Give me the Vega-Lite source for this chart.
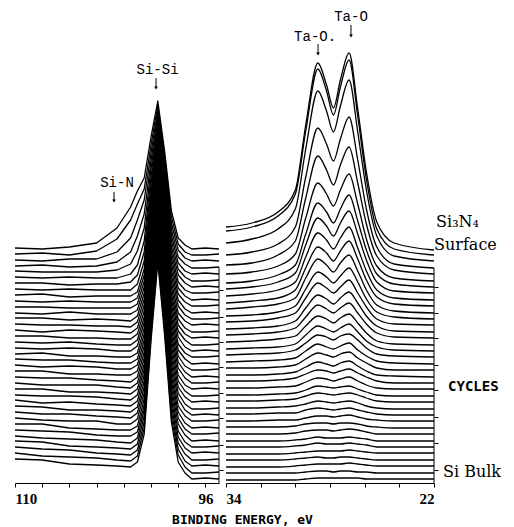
{
  "$schema": "https://vega.github.io/schema/vega-lite/v6.json",
  "background": "white",
  "padding": {"left": 14, "top": 0, "right": 0, "bottom": 0},
  "bounds": "flush",
  "spacing": 7,
  "config": {
    "view": {"stroke": null},
    "axis": {"domainColor": "black", "tickColor": "black", "labelColor": "black", "titleColor": "black", "grid": false, "domainWidth": 1, "tickWidth": 1, "tickSize": 4, "labelOverlap": false}
  },
  "datasets": {
    "si2p": [
      {"c":0,"eV":110,"I":24},{"c":0,"eV":108,"I":23},{"c":0,"eV":106,"I":19},{"c":0,"eV":104,"I":18},{"c":0,"eV":102.5,"I":17},{"c":0,"eV":101.5,"I":16},{"c":0,"eV":101,"I":21},{"c":0,"eV":100.5,"I":49},{"c":0,"eV":100,"I":142},{"c":0,"eV":99.5,"I":221},{"c":0,"eV":99,"I":148},{"c":0,"eV":98.5,"I":61},{"c":0,"eV":98,"I":21},{"c":0,"eV":97.5,"I":10},{"c":0,"eV":97,"I":4},{"c":0,"eV":96,"I":5},{"c":0,"eV":95,"I":4},
      {"c":1,"eV":110,"I":30},{"c":1,"eV":108,"I":27},{"c":1,"eV":106,"I":26},{"c":1,"eV":104,"I":25},{"c":1,"eV":102.5,"I":23},{"c":1,"eV":101.5,"I":22},{"c":1,"eV":101,"I":27},{"c":1,"eV":100.5,"I":55},{"c":1,"eV":100,"I":147},{"c":1,"eV":99.5,"I":225},{"c":1,"eV":99,"I":153},{"c":1,"eV":98.5,"I":66},{"c":1,"eV":98,"I":28},{"c":1,"eV":97.5,"I":16},{"c":1,"eV":97,"I":10},{"c":1,"eV":96,"I":10},{"c":1,"eV":95,"I":11},
      {"c":2,"eV":110,"I":36},{"c":2,"eV":108,"I":34},{"c":2,"eV":106,"I":33},{"c":2,"eV":104,"I":30},{"c":2,"eV":102.5,"I":29},{"c":2,"eV":101.5,"I":28},{"c":2,"eV":101,"I":33},{"c":2,"eV":100.5,"I":61},{"c":2,"eV":100,"I":152},{"c":2,"eV":99.5,"I":230},{"c":2,"eV":99,"I":158},{"c":2,"eV":98.5,"I":72},{"c":2,"eV":98,"I":34},{"c":2,"eV":97.5,"I":22},{"c":2,"eV":97,"I":17},{"c":2,"eV":96,"I":18},{"c":2,"eV":95,"I":17},
      {"c":3,"eV":110,"I":42},{"c":3,"eV":108,"I":41},{"c":3,"eV":106,"I":37},{"c":3,"eV":104,"I":36},{"c":3,"eV":102.5,"I":35},{"c":3,"eV":101.5,"I":34},{"c":3,"eV":101,"I":39},{"c":3,"eV":100.5,"I":67},{"c":3,"eV":100,"I":158},{"c":3,"eV":99.5,"I":234},{"c":3,"eV":99,"I":163},{"c":3,"eV":98.5,"I":78},{"c":3,"eV":98,"I":40},{"c":3,"eV":97.5,"I":29},{"c":3,"eV":97,"I":23},{"c":3,"eV":96,"I":23},{"c":3,"eV":95,"I":24},
      {"c":4,"eV":110,"I":47},{"c":4,"eV":108,"I":45},{"c":4,"eV":106,"I":44},{"c":4,"eV":104,"I":43},{"c":4,"eV":102.5,"I":41},{"c":4,"eV":101.5,"I":40},{"c":4,"eV":101,"I":45},{"c":4,"eV":100.5,"I":73},{"c":4,"eV":100,"I":163},{"c":4,"eV":99.5,"I":239},{"c":4,"eV":99,"I":168},{"c":4,"eV":98.5,"I":84},{"c":4,"eV":98,"I":46},{"c":4,"eV":97.5,"I":35},{"c":4,"eV":97,"I":30},{"c":4,"eV":96,"I":31},{"c":4,"eV":95,"I":30},
      {"c":5,"eV":110,"I":53},{"c":5,"eV":108,"I":52},{"c":5,"eV":106,"I":51},{"c":5,"eV":104,"I":48},{"c":5,"eV":102.5,"I":47},{"c":5,"eV":101.5,"I":47},{"c":5,"eV":101,"I":51},{"c":5,"eV":100.5,"I":78},{"c":5,"eV":100,"I":168},{"c":5,"eV":99.5,"I":243},{"c":5,"eV":99,"I":174},{"c":5,"eV":98.5,"I":90},{"c":5,"eV":98,"I":52},{"c":5,"eV":97.5,"I":41},{"c":5,"eV":97,"I":36},{"c":5,"eV":96,"I":36},{"c":5,"eV":95,"I":37},
      {"c":6,"eV":110,"I":59},{"c":6,"eV":108,"I":59},{"c":6,"eV":106,"I":55},{"c":6,"eV":104,"I":54},{"c":6,"eV":102.5,"I":53},{"c":6,"eV":101.5,"I":53},{"c":6,"eV":101,"I":57},{"c":6,"eV":100.5,"I":84},{"c":6,"eV":100,"I":173},{"c":6,"eV":99.5,"I":248},{"c":6,"eV":99,"I":179},{"c":6,"eV":98.5,"I":96},{"c":6,"eV":98,"I":59},{"c":6,"eV":97.5,"I":48},{"c":6,"eV":97,"I":42},{"c":6,"eV":96,"I":43},{"c":6,"eV":95,"I":42},
      {"c":7,"eV":110,"I":65},{"c":7,"eV":108,"I":63},{"c":7,"eV":106,"I":62},{"c":7,"eV":104,"I":62},{"c":7,"eV":102.5,"I":59},{"c":7,"eV":101.5,"I":59},{"c":7,"eV":101,"I":64},{"c":7,"eV":100.5,"I":90},{"c":7,"eV":100,"I":178},{"c":7,"eV":99.5,"I":252},{"c":7,"eV":99,"I":184},{"c":7,"eV":98.5,"I":102},{"c":7,"eV":98,"I":65},{"c":7,"eV":97.5,"I":54},{"c":7,"eV":97,"I":49},{"c":7,"eV":96,"I":49},{"c":7,"eV":95,"I":50},
      {"c":8,"eV":110,"I":71},{"c":8,"eV":108,"I":69},{"c":8,"eV":106,"I":69},{"c":8,"eV":104,"I":67},{"c":8,"eV":102.5,"I":66},{"c":8,"eV":101.5,"I":65},{"c":8,"eV":101,"I":70},{"c":8,"eV":100.5,"I":96},{"c":8,"eV":100,"I":183},{"c":8,"eV":99.5,"I":257},{"c":8,"eV":99,"I":189},{"c":8,"eV":98.5,"I":107},{"c":8,"eV":98,"I":71},{"c":8,"eV":97.5,"I":60},{"c":8,"eV":97,"I":55},{"c":8,"eV":96,"I":56},{"c":8,"eV":95,"I":55},
      {"c":9,"eV":110,"I":77},{"c":9,"eV":108,"I":76},{"c":9,"eV":106,"I":73},{"c":9,"eV":104,"I":73},{"c":9,"eV":102.5,"I":72},{"c":9,"eV":101.5,"I":71},{"c":9,"eV":101,"I":76},{"c":9,"eV":100.5,"I":102},{"c":9,"eV":100,"I":188},{"c":9,"eV":99.5,"I":261},{"c":9,"eV":99,"I":194},{"c":9,"eV":98.5,"I":113},{"c":9,"eV":98,"I":77},{"c":9,"eV":97.5,"I":67},{"c":9,"eV":97,"I":62},{"c":9,"eV":96,"I":62},{"c":9,"eV":95,"I":63},
      {"c":10,"eV":110,"I":83},{"c":10,"eV":108,"I":80},{"c":10,"eV":106,"I":81},{"c":10,"eV":104,"I":79},{"c":10,"eV":102.5,"I":78},{"c":10,"eV":101.5,"I":77},{"c":10,"eV":101,"I":82},{"c":10,"eV":100.5,"I":108},{"c":10,"eV":100,"I":193},{"c":10,"eV":99.5,"I":266},{"c":10,"eV":99,"I":199},{"c":10,"eV":98.5,"I":119},{"c":10,"eV":98,"I":84},{"c":10,"eV":97.5,"I":73},{"c":10,"eV":97,"I":68},{"c":10,"eV":96,"I":69},{"c":10,"eV":95,"I":68},
      {"c":11,"eV":110,"I":88},{"c":11,"eV":108,"I":87},{"c":11,"eV":106,"I":87},{"c":11,"eV":104,"I":86},{"c":11,"eV":102.5,"I":84},{"c":11,"eV":101.5,"I":83},{"c":11,"eV":101,"I":88},{"c":11,"eV":100.5,"I":114},{"c":11,"eV":100,"I":198},{"c":11,"eV":99.5,"I":270},{"c":11,"eV":99,"I":204},{"c":11,"eV":98.5,"I":125},{"c":11,"eV":98,"I":90},{"c":11,"eV":97.5,"I":79},{"c":11,"eV":97,"I":74},{"c":11,"eV":96,"I":74},{"c":11,"eV":95,"I":75},
      {"c":12,"eV":110,"I":94},{"c":12,"eV":108,"I":94},{"c":12,"eV":106,"I":91},{"c":12,"eV":104,"I":91},{"c":12,"eV":102.5,"I":90},{"c":12,"eV":101.5,"I":89},{"c":12,"eV":101,"I":94},{"c":12,"eV":100.5,"I":119},{"c":12,"eV":100,"I":204},{"c":12,"eV":99.5,"I":275},{"c":12,"eV":99,"I":209},{"c":12,"eV":98.5,"I":131},{"c":12,"eV":98,"I":96},{"c":12,"eV":97.5,"I":86},{"c":12,"eV":97,"I":81},{"c":12,"eV":96,"I":82},{"c":12,"eV":95,"I":81},
      {"c":13,"eV":110,"I":100},{"c":13,"eV":108,"I":98},{"c":13,"eV":106,"I":98},{"c":13,"eV":104,"I":98},{"c":13,"eV":102.5,"I":96},{"c":13,"eV":101.5,"I":95},{"c":13,"eV":101,"I":100},{"c":13,"eV":100.5,"I":125},{"c":13,"eV":100,"I":209},{"c":13,"eV":99.5,"I":279},{"c":13,"eV":99,"I":214},{"c":13,"eV":98.5,"I":137},{"c":13,"eV":98,"I":102},{"c":13,"eV":97.5,"I":92},{"c":13,"eV":97,"I":87},{"c":13,"eV":96,"I":87},{"c":13,"eV":95,"I":88},
      {"c":14,"eV":110,"I":106},{"c":14,"eV":108,"I":105},{"c":14,"eV":106,"I":105},{"c":14,"eV":104,"I":103},{"c":14,"eV":102.5,"I":102},{"c":14,"eV":101.5,"I":101},{"c":14,"eV":101,"I":106},{"c":14,"eV":100.5,"I":131},{"c":14,"eV":100,"I":214},{"c":14,"eV":99.5,"I":283},{"c":14,"eV":99,"I":220},{"c":14,"eV":98.5,"I":143},{"c":14,"eV":98,"I":108},{"c":14,"eV":97.5,"I":98},{"c":14,"eV":97,"I":94},{"c":14,"eV":96,"I":95},{"c":14,"eV":95,"I":94},
      {"c":15,"eV":110,"I":112},{"c":15,"eV":108,"I":112},{"c":15,"eV":106,"I":109},{"c":15,"eV":104,"I":109},{"c":15,"eV":102.5,"I":108},{"c":15,"eV":101.5,"I":108},{"c":15,"eV":101,"I":112},{"c":15,"eV":100.5,"I":137},{"c":15,"eV":100,"I":219},{"c":15,"eV":99.5,"I":288},{"c":15,"eV":99,"I":225},{"c":15,"eV":98.5,"I":148},{"c":15,"eV":98,"I":115},{"c":15,"eV":97.5,"I":105},{"c":15,"eV":97,"I":100},{"c":15,"eV":96,"I":100},{"c":15,"eV":95,"I":101},
      {"c":16,"eV":110,"I":118},{"c":16,"eV":108,"I":116},{"c":16,"eV":106,"I":117},{"c":16,"eV":104,"I":116},{"c":16,"eV":102.5,"I":114},{"c":16,"eV":101.5,"I":114},{"c":16,"eV":101,"I":118},{"c":16,"eV":100.5,"I":143},{"c":16,"eV":100,"I":224},{"c":16,"eV":99.5,"I":292},{"c":16,"eV":99,"I":230},{"c":16,"eV":98.5,"I":154},{"c":16,"eV":98,"I":121},{"c":16,"eV":97.5,"I":111},{"c":16,"eV":97,"I":106},{"c":16,"eV":96,"I":107},{"c":16,"eV":95,"I":106},
      {"c":17,"eV":110,"I":124},{"c":17,"eV":108,"I":123},{"c":17,"eV":106,"I":123},{"c":17,"eV":104,"I":121},{"c":17,"eV":102.5,"I":120},{"c":17,"eV":101.5,"I":120},{"c":17,"eV":101,"I":124},{"c":17,"eV":100.5,"I":149},{"c":17,"eV":100,"I":229},{"c":17,"eV":99.5,"I":297},{"c":17,"eV":99,"I":235},{"c":17,"eV":98.5,"I":160},{"c":17,"eV":98,"I":127},{"c":17,"eV":97.5,"I":117},{"c":17,"eV":97,"I":113},{"c":17,"eV":96,"I":113},{"c":17,"eV":95,"I":114},
      {"c":18,"eV":110,"I":129},{"c":18,"eV":108,"I":130},{"c":18,"eV":106,"I":127},{"c":18,"eV":104,"I":127},{"c":18,"eV":102.5,"I":126},{"c":18,"eV":101.5,"I":126},{"c":18,"eV":101,"I":130},{"c":18,"eV":100.5,"I":155},{"c":18,"eV":100,"I":234},{"c":18,"eV":99.5,"I":301},{"c":18,"eV":99,"I":240},{"c":18,"eV":98.5,"I":166},{"c":18,"eV":98,"I":133},{"c":18,"eV":97.5,"I":124},{"c":18,"eV":97,"I":119},{"c":18,"eV":96,"I":120},{"c":18,"eV":95,"I":119},
      {"c":19,"eV":110,"I":135},{"c":19,"eV":108,"I":134},{"c":19,"eV":106,"I":135},{"c":19,"eV":104,"I":134},{"c":19,"eV":102.5,"I":132},{"c":19,"eV":101.5,"I":132},{"c":19,"eV":101,"I":137},{"c":19,"eV":100.5,"I":161},{"c":19,"eV":100,"I":239},{"c":19,"eV":99.5,"I":306},{"c":19,"eV":99,"I":245},{"c":19,"eV":98.5,"I":172},{"c":19,"eV":98,"I":139},{"c":19,"eV":97.5,"I":130},{"c":19,"eV":97,"I":126},{"c":19,"eV":96,"I":126},{"c":19,"eV":95,"I":127},
      {"c":20,"eV":110,"I":141},{"c":20,"eV":108,"I":140},{"c":20,"eV":106,"I":141},{"c":20,"eV":104,"I":139},{"c":20,"eV":102.5,"I":138},{"c":20,"eV":101.5,"I":138},{"c":20,"eV":101,"I":143},{"c":20,"eV":100.5,"I":166},{"c":20,"eV":100,"I":245},{"c":20,"eV":99.5,"I":310},{"c":20,"eV":99,"I":250},{"c":20,"eV":98.5,"I":178},{"c":20,"eV":98,"I":146},{"c":20,"eV":97.5,"I":136},{"c":20,"eV":97,"I":132},{"c":20,"eV":96,"I":133},{"c":20,"eV":95,"I":132},
      {"c":21,"eV":110,"I":147},{"c":21,"eV":108,"I":147},{"c":21,"eV":106,"I":145},{"c":21,"eV":104,"I":145},{"c":21,"eV":102.5,"I":144},{"c":21,"eV":101.5,"I":144},{"c":21,"eV":101,"I":149},{"c":21,"eV":100.5,"I":172},{"c":21,"eV":100,"I":250},{"c":21,"eV":99.5,"I":315},{"c":21,"eV":99,"I":255},{"c":21,"eV":98.5,"I":184},{"c":21,"eV":98,"I":152},{"c":21,"eV":97.5,"I":143},{"c":21,"eV":97,"I":138},{"c":21,"eV":96,"I":138},{"c":21,"eV":95,"I":139},
      {"c":22,"eV":110,"I":153},{"c":22,"eV":108,"I":151},{"c":22,"eV":106,"I":153},{"c":22,"eV":104,"I":152},{"c":22,"eV":102.5,"I":151},{"c":22,"eV":101.5,"I":150},{"c":22,"eV":101,"I":155},{"c":22,"eV":100.5,"I":178},{"c":22,"eV":100,"I":255},{"c":22,"eV":99.5,"I":319},{"c":22,"eV":99,"I":260},{"c":22,"eV":98.5,"I":189},{"c":22,"eV":98,"I":158},{"c":22,"eV":97.5,"I":149},{"c":22,"eV":97,"I":145},{"c":22,"eV":96,"I":146},{"c":22,"eV":95,"I":145},
      {"c":23,"eV":110,"I":159},{"c":23,"eV":108,"I":158},{"c":23,"eV":106,"I":158},{"c":23,"eV":104,"I":157},{"c":23,"eV":102.5,"I":157},{"c":23,"eV":101.5,"I":156},{"c":23,"eV":101,"I":161},{"c":23,"eV":100.5,"I":184},{"c":23,"eV":100,"I":260},{"c":23,"eV":99.5,"I":324},{"c":23,"eV":99,"I":266},{"c":23,"eV":98.5,"I":195},{"c":23,"eV":98,"I":164},{"c":23,"eV":97.5,"I":155},{"c":23,"eV":97,"I":151},{"c":23,"eV":96,"I":151},{"c":23,"eV":95,"I":152},
      {"c":24,"eV":110,"I":165},{"c":24,"eV":108,"I":165},{"c":24,"eV":106,"I":163},{"c":24,"eV":104,"I":164},{"c":24,"eV":102.5,"I":163},{"c":24,"eV":101.5,"I":162},{"c":24,"eV":101,"I":167},{"c":24,"eV":100.5,"I":190},{"c":24,"eV":100,"I":265},{"c":24,"eV":99.5,"I":328},{"c":24,"eV":99,"I":271},{"c":24,"eV":98.5,"I":201},{"c":24,"eV":98,"I":170},{"c":24,"eV":97.5,"I":162},{"c":24,"eV":97,"I":158},{"c":24,"eV":96,"I":159},{"c":24,"eV":95,"I":158},
      {"c":25,"eV":110,"I":170},{"c":25,"eV":108,"I":169},{"c":25,"eV":106,"I":171},{"c":25,"eV":104,"I":169},{"c":25,"eV":102.5,"I":169},{"c":25,"eV":101.5,"I":169},{"c":25,"eV":101,"I":173},{"c":25,"eV":100.5,"I":196},{"c":25,"eV":100,"I":270},{"c":25,"eV":99.5,"I":333},{"c":25,"eV":99,"I":276},{"c":25,"eV":98.5,"I":207},{"c":25,"eV":98,"I":177},{"c":25,"eV":97.5,"I":168},{"c":25,"eV":97,"I":164},{"c":25,"eV":96,"I":164},{"c":25,"eV":95,"I":165},
      {"c":26,"eV":110,"I":176},{"c":26,"eV":108,"I":176},{"c":26,"eV":106,"I":175},{"c":26,"eV":104,"I":175},{"c":26,"eV":102.5,"I":175},{"c":26,"eV":101.5,"I":175},{"c":26,"eV":101,"I":179},{"c":26,"eV":100.5,"I":202},{"c":26,"eV":100,"I":275},{"c":26,"eV":99.5,"I":337},{"c":26,"eV":99,"I":281},{"c":26,"eV":98.5,"I":213},{"c":26,"eV":98,"I":183},{"c":26,"eV":97.5,"I":174},{"c":26,"eV":97,"I":170},{"c":26,"eV":96,"I":171},{"c":26,"eV":95,"I":170},
      {"c":27,"eV":110,"I":182},{"c":27,"eV":108,"I":181},{"c":27,"eV":106,"I":182},{"c":27,"eV":104,"I":181},{"c":27,"eV":102.5,"I":181},{"c":27,"eV":101.5,"I":181},{"c":27,"eV":101,"I":185},{"c":27,"eV":100.5,"I":208},{"c":27,"eV":100,"I":280},{"c":27,"eV":99.5,"I":342},{"c":27,"eV":99,"I":286},{"c":27,"eV":98.5,"I":219},{"c":27,"eV":98,"I":189},{"c":27,"eV":97.5,"I":181},{"c":27,"eV":97,"I":177},{"c":27,"eV":96,"I":177},{"c":27,"eV":95,"I":178},
      {"c":28,"eV":110,"I":188},{"c":28,"eV":108,"I":189},{"c":28,"eV":106,"I":186},{"c":28,"eV":104,"I":187},{"c":28,"eV":102.5,"I":187},{"c":28,"eV":101.5,"I":187},{"c":28,"eV":101,"I":191},{"c":28,"eV":100.5,"I":214},{"c":28,"eV":100,"I":285},{"c":28,"eV":99.5,"I":346},{"c":28,"eV":99,"I":291},{"c":28,"eV":98.5,"I":225},{"c":28,"eV":98,"I":195},{"c":28,"eV":97.5,"I":187},{"c":28,"eV":97,"I":183},{"c":28,"eV":96,"I":184},{"c":28,"eV":95,"I":183},
      {"c":29,"eV":110,"I":194},{"c":29,"eV":108,"I":193},{"c":29,"eV":106,"I":194},{"c":29,"eV":104,"I":193},{"c":29,"eV":102.5,"I":193},{"c":29,"eV":101.5,"I":193},{"c":29,"eV":101,"I":199},{"c":29,"eV":100.5,"I":222},{"c":29,"eV":100,"I":291},{"c":29,"eV":99.5,"I":351},{"c":29,"eV":99,"I":296},{"c":29,"eV":98.5,"I":231},{"c":29,"eV":98,"I":201},{"c":29,"eV":97.5,"I":193},{"c":29,"eV":97,"I":190},{"c":29,"eV":96,"I":190},{"c":29,"eV":95,"I":191},
      {"c":30,"eV":110,"I":200},{"c":30,"eV":108,"I":200},{"c":30,"eV":106,"I":198},{"c":30,"eV":104,"I":199},{"c":30,"eV":102.5,"I":199},{"c":30,"eV":101.5,"I":201},{"c":30,"eV":101,"I":208},{"c":30,"eV":100.5,"I":231},{"c":30,"eV":100,"I":299},{"c":30,"eV":99.5,"I":355},{"c":30,"eV":99,"I":301},{"c":30,"eV":98.5,"I":236},{"c":30,"eV":98,"I":208},{"c":30,"eV":97.5,"I":200},{"c":30,"eV":97,"I":196},{"c":30,"eV":96,"I":197},{"c":30,"eV":95,"I":196},
      {"c":31,"eV":110,"I":206},{"c":31,"eV":108,"I":205},{"c":31,"eV":106,"I":206},{"c":31,"eV":104,"I":205},{"c":31,"eV":102.5,"I":205},{"c":31,"eV":101.5,"I":209},{"c":31,"eV":101,"I":218},{"c":31,"eV":100.5,"I":242},{"c":31,"eV":100,"I":306},{"c":31,"eV":99.5,"I":360},{"c":31,"eV":99,"I":306},{"c":31,"eV":98.5,"I":242},{"c":31,"eV":98,"I":214},{"c":31,"eV":97.5,"I":206},{"c":31,"eV":97,"I":202},{"c":31,"eV":96,"I":202},{"c":31,"eV":95,"I":203},
      {"c":32,"eV":110,"I":212},{"c":32,"eV":108,"I":211},{"c":32,"eV":106,"I":211},{"c":32,"eV":104,"I":211},{"c":32,"eV":102.5,"I":213},{"c":32,"eV":101.5,"I":219},{"c":32,"eV":101,"I":232},{"c":32,"eV":100.5,"I":255},{"c":32,"eV":100,"I":314},{"c":32,"eV":99.5,"I":364},{"c":32,"eV":99,"I":312},{"c":32,"eV":98.5,"I":248},{"c":32,"eV":98,"I":220},{"c":32,"eV":97.5,"I":212},{"c":32,"eV":97,"I":209},{"c":32,"eV":96,"I":210},{"c":32,"eV":95,"I":209},
      {"c":33,"eV":110,"I":217},{"c":33,"eV":108,"I":218},{"c":33,"eV":106,"I":216},{"c":33,"eV":104,"I":217},{"c":33,"eV":102.5,"I":221},{"c":33,"eV":101.5,"I":231},{"c":33,"eV":101,"I":247},{"c":33,"eV":100.5,"I":269},{"c":33,"eV":100,"I":322},{"c":33,"eV":99.5,"I":369},{"c":33,"eV":99,"I":317},{"c":33,"eV":98.5,"I":254},{"c":33,"eV":98,"I":226},{"c":33,"eV":97.5,"I":219},{"c":33,"eV":97,"I":215},{"c":33,"eV":96,"I":215},{"c":33,"eV":95,"I":216},
      {"c":34,"eV":110,"I":223},{"c":34,"eV":108,"I":222},{"c":34,"eV":106,"I":224},{"c":34,"eV":104,"I":224},{"c":34,"eV":102.5,"I":231},{"c":34,"eV":101.5,"I":245},{"c":34,"eV":101,"I":263},{"c":34,"eV":100.5,"I":283},{"c":34,"eV":100,"I":330},{"c":34,"eV":99.5,"I":373},{"c":34,"eV":99,"I":322},{"c":34,"eV":98.5,"I":260},{"c":34,"eV":98,"I":233},{"c":34,"eV":97.5,"I":225},{"c":34,"eV":97,"I":222},{"c":34,"eV":96,"I":223},{"c":34,"eV":95,"I":222},
      {"c":35,"eV":110,"I":229},{"c":35,"eV":108,"I":230},{"c":35,"eV":106,"I":228},{"c":35,"eV":104,"I":232},{"c":35,"eV":102.5,"I":244},{"c":35,"eV":101.5,"I":263},{"c":35,"eV":101,"I":279},{"c":35,"eV":100.5,"I":294},{"c":35,"eV":100,"I":338},{"c":35,"eV":99.5,"I":378},{"c":35,"eV":99,"I":327},{"c":35,"eV":98.5,"I":266},{"c":35,"eV":98,"I":239},{"c":35,"eV":97.5,"I":231},{"c":35,"eV":97,"I":228},{"c":35,"eV":96,"I":228},{"c":35,"eV":95,"I":229},
      {"c":36,"eV":110,"I":235},{"c":36,"eV":108,"I":234},{"c":36,"eV":106,"I":236},{"c":36,"eV":104,"I":240},{"c":36,"eV":102.5,"I":255},{"c":36,"eV":101.5,"I":276},{"c":36,"eV":101,"I":292},{"c":36,"eV":100.5,"I":305},{"c":36,"eV":100,"I":346},{"c":36,"eV":99.5,"I":382},{"c":36,"eV":99,"I":332},{"c":36,"eV":98.5,"I":272},{"c":36,"eV":98,"I":245},{"c":36,"eV":97.5,"I":238},{"c":36,"eV":97,"I":234},{"c":36,"eV":96,"I":235},{"c":36,"eV":95,"I":234}
    ],
    "ta4f": [
      {"c":0,"eV":34,"I":3},{"c":0,"eV":32.5,"I":3},{"c":0,"eV":31,"I":3},{"c":0,"eV":30,"I":3},{"c":0,"eV":29.4,"I":4},{"c":0,"eV":28.7,"I":5},{"c":0,"eV":28.2,"I":5},{"c":0,"eV":27.8,"I":5},{"c":0,"eV":27.4,"I":5},{"c":0,"eV":26.9,"I":5},{"c":0,"eV":26.4,"I":5},{"c":0,"eV":25.9,"I":4},{"c":0,"eV":25.3,"I":4},{"c":0,"eV":24.3,"I":4},{"c":0,"eV":22,"I":4},
      {"c":1,"eV":34,"I":10},{"c":1,"eV":32.5,"I":10},{"c":1,"eV":31,"I":10},{"c":1,"eV":30,"I":10},{"c":1,"eV":29.4,"I":11},{"c":1,"eV":28.7,"I":12},{"c":1,"eV":28.2,"I":12},{"c":1,"eV":27.8,"I":11},{"c":1,"eV":27.4,"I":12},{"c":1,"eV":26.9,"I":12},{"c":1,"eV":26.4,"I":11},{"c":1,"eV":25.9,"I":11},{"c":1,"eV":25.3,"I":10},{"c":1,"eV":24.3,"I":10},{"c":1,"eV":22,"I":10},
      {"c":2,"eV":34,"I":16},{"c":2,"eV":32.5,"I":16},{"c":2,"eV":31,"I":16},{"c":2,"eV":30,"I":17},{"c":2,"eV":29.4,"I":18},{"c":2,"eV":28.7,"I":19},{"c":2,"eV":28.2,"I":19},{"c":2,"eV":27.8,"I":19},{"c":2,"eV":27.4,"I":19},{"c":2,"eV":26.9,"I":20},{"c":2,"eV":26.4,"I":19},{"c":2,"eV":25.9,"I":18},{"c":2,"eV":25.3,"I":17},{"c":2,"eV":24.3,"I":17},{"c":2,"eV":22,"I":17},
      {"c":3,"eV":34,"I":23},{"c":3,"eV":32.5,"I":23},{"c":3,"eV":31,"I":23},{"c":3,"eV":30,"I":24},{"c":3,"eV":29.4,"I":25},{"c":3,"eV":28.7,"I":26},{"c":3,"eV":28.2,"I":25},{"c":3,"eV":27.8,"I":25},{"c":3,"eV":27.4,"I":26},{"c":3,"eV":26.9,"I":26},{"c":3,"eV":26.4,"I":25},{"c":3,"eV":25.9,"I":24},{"c":3,"eV":25.3,"I":23},{"c":3,"eV":24.3,"I":23},{"c":3,"eV":22,"I":23},
      {"c":4,"eV":34,"I":29},{"c":4,"eV":32.5,"I":29},{"c":4,"eV":31,"I":29},{"c":4,"eV":30,"I":30},{"c":4,"eV":29.4,"I":31},{"c":4,"eV":28.7,"I":32},{"c":4,"eV":28.2,"I":32},{"c":4,"eV":27.8,"I":32},{"c":4,"eV":27.4,"I":32},{"c":4,"eV":26.9,"I":33},{"c":4,"eV":26.4,"I":32},{"c":4,"eV":25.9,"I":31},{"c":4,"eV":25.3,"I":30},{"c":4,"eV":24.3,"I":30},{"c":4,"eV":22,"I":30},
      {"c":5,"eV":34,"I":36},{"c":5,"eV":32.5,"I":36},{"c":5,"eV":31,"I":36},{"c":5,"eV":30,"I":37},{"c":5,"eV":29.4,"I":38},{"c":5,"eV":28.7,"I":40},{"c":5,"eV":28.2,"I":39},{"c":5,"eV":27.8,"I":39},{"c":5,"eV":27.4,"I":39},{"c":5,"eV":26.9,"I":40},{"c":5,"eV":26.4,"I":39},{"c":5,"eV":25.9,"I":38},{"c":5,"eV":25.3,"I":36},{"c":5,"eV":24.3,"I":36},{"c":5,"eV":22,"I":36},
      {"c":6,"eV":34,"I":42},{"c":6,"eV":32.5,"I":42},{"c":6,"eV":31,"I":42},{"c":6,"eV":30,"I":43},{"c":6,"eV":29.4,"I":44},{"c":6,"eV":28.7,"I":46},{"c":6,"eV":28.2,"I":45},{"c":6,"eV":27.8,"I":45},{"c":6,"eV":27.4,"I":45},{"c":6,"eV":26.9,"I":46},{"c":6,"eV":26.4,"I":45},{"c":6,"eV":25.9,"I":44},{"c":6,"eV":25.3,"I":42},{"c":6,"eV":24.3,"I":42},{"c":6,"eV":22,"I":42},
      {"c":7,"eV":34,"I":49},{"c":7,"eV":32.5,"I":49},{"c":7,"eV":31,"I":49},{"c":7,"eV":30,"I":50},{"c":7,"eV":29.4,"I":52},{"c":7,"eV":28.7,"I":53},{"c":7,"eV":28.2,"I":53},{"c":7,"eV":27.8,"I":52},{"c":7,"eV":27.4,"I":53},{"c":7,"eV":26.9,"I":54},{"c":7,"eV":26.4,"I":53},{"c":7,"eV":25.9,"I":51},{"c":7,"eV":25.3,"I":49},{"c":7,"eV":24.3,"I":49},{"c":7,"eV":22,"I":49},
      {"c":8,"eV":34,"I":56},{"c":8,"eV":32.5,"I":56},{"c":8,"eV":31,"I":56},{"c":8,"eV":30,"I":57},{"c":8,"eV":29.4,"I":59},{"c":8,"eV":28.7,"I":60},{"c":8,"eV":28.2,"I":60},{"c":8,"eV":27.8,"I":59},{"c":8,"eV":27.4,"I":60},{"c":8,"eV":26.9,"I":60},{"c":8,"eV":26.4,"I":59},{"c":8,"eV":25.9,"I":57},{"c":8,"eV":25.3,"I":56},{"c":8,"eV":24.3,"I":55},{"c":8,"eV":22,"I":55},
      {"c":9,"eV":34,"I":62},{"c":9,"eV":32.5,"I":62},{"c":9,"eV":31,"I":63},{"c":9,"eV":30,"I":63},{"c":9,"eV":29.4,"I":65},{"c":9,"eV":28.7,"I":67},{"c":9,"eV":28.2,"I":67},{"c":9,"eV":27.8,"I":66},{"c":9,"eV":27.4,"I":67},{"c":9,"eV":26.9,"I":68},{"c":9,"eV":26.4,"I":66},{"c":9,"eV":25.9,"I":64},{"c":9,"eV":25.3,"I":63},{"c":9,"eV":24.3,"I":62},{"c":9,"eV":22,"I":62},
      {"c":10,"eV":34,"I":69},{"c":10,"eV":32.5,"I":69},{"c":10,"eV":31,"I":70},{"c":10,"eV":30,"I":70},{"c":10,"eV":29.4,"I":73},{"c":10,"eV":28.7,"I":75},{"c":10,"eV":28.2,"I":74},{"c":10,"eV":27.8,"I":73},{"c":10,"eV":27.4,"I":74},{"c":10,"eV":26.9,"I":75},{"c":10,"eV":26.4,"I":73},{"c":10,"eV":25.9,"I":71},{"c":10,"eV":25.3,"I":69},{"c":10,"eV":24.3,"I":68},{"c":10,"eV":22,"I":68},
      {"c":11,"eV":34,"I":75},{"c":11,"eV":32.5,"I":75},{"c":11,"eV":31,"I":76},{"c":11,"eV":30,"I":77},{"c":11,"eV":29.4,"I":79},{"c":11,"eV":28.7,"I":82},{"c":11,"eV":28.2,"I":81},{"c":11,"eV":27.8,"I":80},{"c":11,"eV":27.4,"I":81},{"c":11,"eV":26.9,"I":82},{"c":11,"eV":26.4,"I":80},{"c":11,"eV":25.9,"I":77},{"c":11,"eV":25.3,"I":75},{"c":11,"eV":24.3,"I":74},{"c":11,"eV":22,"I":74},
      {"c":12,"eV":34,"I":82},{"c":12,"eV":32.5,"I":82},{"c":12,"eV":31,"I":83},{"c":12,"eV":30,"I":84},{"c":12,"eV":29.4,"I":87},{"c":12,"eV":28.7,"I":90},{"c":12,"eV":28.2,"I":89},{"c":12,"eV":27.8,"I":88},{"c":12,"eV":27.4,"I":89},{"c":12,"eV":26.9,"I":90},{"c":12,"eV":26.4,"I":88},{"c":12,"eV":25.9,"I":85},{"c":12,"eV":25.3,"I":82},{"c":12,"eV":24.3,"I":81},{"c":12,"eV":22,"I":81},
      {"c":13,"eV":34,"I":88},{"c":13,"eV":32.5,"I":88},{"c":13,"eV":31,"I":89},{"c":13,"eV":30,"I":90},{"c":13,"eV":29.4,"I":93},{"c":13,"eV":28.7,"I":97},{"c":13,"eV":28.2,"I":96},{"c":13,"eV":27.8,"I":95},{"c":13,"eV":27.4,"I":96},{"c":13,"eV":26.9,"I":97},{"c":13,"eV":26.4,"I":94},{"c":13,"eV":25.9,"I":91},{"c":13,"eV":25.3,"I":88},{"c":13,"eV":24.3,"I":87},{"c":13,"eV":22,"I":87},
      {"c":14,"eV":34,"I":95},{"c":14,"eV":32.5,"I":95},{"c":14,"eV":31,"I":96},{"c":14,"eV":30,"I":97},{"c":14,"eV":29.4,"I":101},{"c":14,"eV":28.7,"I":105},{"c":14,"eV":28.2,"I":104},{"c":14,"eV":27.8,"I":102},{"c":14,"eV":27.4,"I":104},{"c":14,"eV":26.9,"I":106},{"c":14,"eV":26.4,"I":102},{"c":14,"eV":25.9,"I":98},{"c":14,"eV":25.3,"I":95},{"c":14,"eV":24.3,"I":94},{"c":14,"eV":22,"I":94},
      {"c":15,"eV":34,"I":102},{"c":15,"eV":32.5,"I":102},{"c":15,"eV":31,"I":103},{"c":15,"eV":30,"I":105},{"c":15,"eV":29.4,"I":109},{"c":15,"eV":28.7,"I":113},{"c":15,"eV":28.2,"I":112},{"c":15,"eV":27.8,"I":110},{"c":15,"eV":27.4,"I":112},{"c":15,"eV":26.9,"I":114},{"c":15,"eV":26.4,"I":110},{"c":15,"eV":25.9,"I":106},{"c":15,"eV":25.3,"I":102},{"c":15,"eV":24.3,"I":100},{"c":15,"eV":22,"I":100},
      {"c":16,"eV":34,"I":108},{"c":16,"eV":32.5,"I":108},{"c":16,"eV":31,"I":109},{"c":16,"eV":30,"I":111},{"c":16,"eV":29.4,"I":116},{"c":16,"eV":28.7,"I":121},{"c":16,"eV":28.2,"I":119},{"c":16,"eV":27.8,"I":117},{"c":16,"eV":27.4,"I":120},{"c":16,"eV":26.9,"I":122},{"c":16,"eV":26.4,"I":117},{"c":16,"eV":25.9,"I":112},{"c":16,"eV":25.3,"I":108},{"c":16,"eV":24.3,"I":107},{"c":16,"eV":22,"I":106},
      {"c":17,"eV":34,"I":115},{"c":17,"eV":32.5,"I":115},{"c":17,"eV":31,"I":116},{"c":17,"eV":30,"I":118},{"c":17,"eV":29.4,"I":124},{"c":17,"eV":28.7,"I":130},{"c":17,"eV":28.2,"I":128},{"c":17,"eV":27.8,"I":126},{"c":17,"eV":27.4,"I":129},{"c":17,"eV":26.9,"I":131},{"c":17,"eV":26.4,"I":125},{"c":17,"eV":25.9,"I":120},{"c":17,"eV":25.3,"I":115},{"c":17,"eV":24.3,"I":113},{"c":17,"eV":22,"I":113},
      {"c":18,"eV":34,"I":121},{"c":18,"eV":32.5,"I":122},{"c":18,"eV":31,"I":123},{"c":18,"eV":30,"I":125},{"c":18,"eV":29.4,"I":132},{"c":18,"eV":28.7,"I":139},{"c":18,"eV":28.2,"I":136},{"c":18,"eV":27.8,"I":134},{"c":18,"eV":27.4,"I":137},{"c":18,"eV":26.9,"I":140},{"c":18,"eV":26.4,"I":133},{"c":18,"eV":25.9,"I":127},{"c":18,"eV":25.3,"I":122},{"c":18,"eV":24.3,"I":120},{"c":18,"eV":22,"I":119},
      {"c":19,"eV":34,"I":128},{"c":19,"eV":32.5,"I":129},{"c":19,"eV":31,"I":130},{"c":19,"eV":30,"I":133},{"c":19,"eV":29.4,"I":140},{"c":19,"eV":28.7,"I":148},{"c":19,"eV":28.2,"I":146},{"c":19,"eV":27.8,"I":143},{"c":19,"eV":27.4,"I":147},{"c":19,"eV":26.9,"I":149},{"c":19,"eV":26.4,"I":143},{"c":19,"eV":25.9,"I":135},{"c":19,"eV":25.3,"I":129},{"c":19,"eV":24.3,"I":127},{"c":19,"eV":22,"I":126},
      {"c":20,"eV":34,"I":134},{"c":20,"eV":32.5,"I":135},{"c":20,"eV":31,"I":136},{"c":20,"eV":30,"I":139},{"c":20,"eV":29.4,"I":148},{"c":20,"eV":28.7,"I":157},{"c":20,"eV":28.2,"I":154},{"c":20,"eV":27.8,"I":151},{"c":20,"eV":27.4,"I":155},{"c":20,"eV":26.9,"I":159},{"c":20,"eV":26.4,"I":151},{"c":20,"eV":25.9,"I":142},{"c":20,"eV":25.3,"I":136},{"c":20,"eV":24.3,"I":133},{"c":20,"eV":22,"I":132},
      {"c":21,"eV":34,"I":141},{"c":21,"eV":32.5,"I":142},{"c":21,"eV":31,"I":144},{"c":21,"eV":30,"I":147},{"c":21,"eV":29.4,"I":157},{"c":21,"eV":28.7,"I":167},{"c":21,"eV":28.2,"I":164},{"c":21,"eV":27.8,"I":160},{"c":21,"eV":27.4,"I":165},{"c":21,"eV":26.9,"I":169},{"c":21,"eV":26.4,"I":160},{"c":21,"eV":25.9,"I":150},{"c":21,"eV":25.3,"I":142},{"c":21,"eV":24.3,"I":139},{"c":21,"eV":22,"I":138},
      {"c":22,"eV":34,"I":148},{"c":22,"eV":32.5,"I":149},{"c":22,"eV":31,"I":151},{"c":22,"eV":30,"I":155},{"c":22,"eV":29.4,"I":166},{"c":22,"eV":28.7,"I":178},{"c":22,"eV":28.2,"I":174},{"c":22,"eV":27.8,"I":170},{"c":22,"eV":27.4,"I":175},{"c":22,"eV":26.9,"I":180},{"c":22,"eV":26.4,"I":170},{"c":22,"eV":25.9,"I":159},{"c":22,"eV":25.3,"I":150},{"c":22,"eV":24.3,"I":146},{"c":22,"eV":22,"I":145},
      {"c":23,"eV":34,"I":154},{"c":23,"eV":32.5,"I":155},{"c":23,"eV":31,"I":157},{"c":23,"eV":30,"I":162},{"c":23,"eV":29.4,"I":175},{"c":23,"eV":28.7,"I":188},{"c":23,"eV":28.2,"I":184},{"c":23,"eV":27.8,"I":179},{"c":23,"eV":27.4,"I":185},{"c":23,"eV":26.9,"I":191},{"c":23,"eV":26.4,"I":180},{"c":23,"eV":25.9,"I":167},{"c":23,"eV":25.3,"I":157},{"c":23,"eV":24.3,"I":152},{"c":23,"eV":22,"I":151},
      {"c":24,"eV":34,"I":161},{"c":24,"eV":32.5,"I":162},{"c":24,"eV":31,"I":165},{"c":24,"eV":30,"I":170},{"c":24,"eV":29.4,"I":185},{"c":24,"eV":28.7,"I":200},{"c":24,"eV":28.2,"I":195},{"c":24,"eV":27.8,"I":190},{"c":24,"eV":27.4,"I":196},{"c":24,"eV":26.9,"I":203},{"c":24,"eV":26.4,"I":190},{"c":24,"eV":25.9,"I":176},{"c":24,"eV":25.3,"I":164},{"c":24,"eV":24.3,"I":159},{"c":24,"eV":22,"I":158},
      {"c":25,"eV":34,"I":167},{"c":25,"eV":32.5,"I":168},{"c":25,"eV":31,"I":171},{"c":25,"eV":30,"I":177},{"c":25,"eV":29.4,"I":194},{"c":25,"eV":28.7,"I":211},{"c":25,"eV":28.2,"I":206},{"c":25,"eV":27.8,"I":200},{"c":25,"eV":27.4,"I":207},{"c":25,"eV":26.9,"I":215},{"c":25,"eV":26.4,"I":201},{"c":25,"eV":25.9,"I":184},{"c":25,"eV":25.3,"I":171},{"c":25,"eV":24.3,"I":166},{"c":25,"eV":22,"I":164},
      {"c":26,"eV":34,"I":174},{"c":26,"eV":32.5,"I":176},{"c":26,"eV":31,"I":179},{"c":26,"eV":30,"I":185},{"c":26,"eV":29.4,"I":205},{"c":26,"eV":28.7,"I":224},{"c":26,"eV":28.2,"I":218},{"c":26,"eV":27.8,"I":211},{"c":26,"eV":27.4,"I":220},{"c":26,"eV":26.9,"I":228},{"c":26,"eV":26.4,"I":212},{"c":26,"eV":25.9,"I":193},{"c":26,"eV":25.3,"I":178},{"c":26,"eV":24.3,"I":172},{"c":26,"eV":22,"I":170},
      {"c":27,"eV":34,"I":180},{"c":27,"eV":32.5,"I":182},{"c":27,"eV":31,"I":185},{"c":27,"eV":30,"I":193},{"c":27,"eV":29.4,"I":215},{"c":27,"eV":28.7,"I":236},{"c":27,"eV":28.2,"I":230},{"c":27,"eV":27.8,"I":222},{"c":27,"eV":27.4,"I":232},{"c":27,"eV":26.9,"I":242},{"c":27,"eV":26.4,"I":224},{"c":27,"eV":25.9,"I":203},{"c":27,"eV":25.3,"I":186},{"c":27,"eV":24.3,"I":179},{"c":27,"eV":22,"I":177},
      {"c":28,"eV":34,"I":187},{"c":28,"eV":32.5,"I":189},{"c":28,"eV":31,"I":193},{"c":28,"eV":30,"I":201},{"c":28,"eV":29.4,"I":226},{"c":28,"eV":28.7,"I":250},{"c":28,"eV":28.2,"I":243},{"c":28,"eV":27.8,"I":234},{"c":28,"eV":27.4,"I":245},{"c":28,"eV":26.9,"I":256},{"c":28,"eV":26.4,"I":235},{"c":28,"eV":25.9,"I":212},{"c":28,"eV":25.3,"I":193},{"c":28,"eV":24.3,"I":185},{"c":28,"eV":22,"I":183},
      {"c":29,"eV":34,"I":194},{"c":29,"eV":32.5,"I":196},{"c":29,"eV":31,"I":201},{"c":29,"eV":30,"I":210},{"c":29,"eV":29.4,"I":238},{"c":29,"eV":28.7,"I":265},{"c":29,"eV":28.2,"I":257},{"c":29,"eV":27.8,"I":247},{"c":29,"eV":27.4,"I":260},{"c":29,"eV":26.9,"I":272},{"c":29,"eV":26.4,"I":249},{"c":29,"eV":25.9,"I":223},{"c":29,"eV":25.3,"I":201},{"c":29,"eV":24.3,"I":192},{"c":29,"eV":22,"I":190},
      {"c":30,"eV":34,"I":200},{"c":30,"eV":32.5,"I":202},{"c":30,"eV":31,"I":208},{"c":30,"eV":30,"I":218},{"c":30,"eV":29.4,"I":249},{"c":30,"eV":28.7,"I":280},{"c":30,"eV":28.2,"I":271},{"c":30,"eV":27.8,"I":260},{"c":30,"eV":27.4,"I":274},{"c":30,"eV":26.9,"I":288},{"c":30,"eV":26.4,"I":262},{"c":30,"eV":25.9,"I":233},{"c":30,"eV":25.3,"I":209},{"c":30,"eV":24.3,"I":199},{"c":30,"eV":22,"I":196},
      {"c":31,"eV":34,"I":209},{"c":31,"eV":32.5,"I":211},{"c":31,"eV":31,"I":217},{"c":31,"eV":30,"I":229},{"c":31,"eV":29.4,"I":265},{"c":31,"eV":28.7,"I":300},{"c":31,"eV":28.2,"I":289},{"c":31,"eV":27.8,"I":277},{"c":31,"eV":27.4,"I":293},{"c":31,"eV":26.9,"I":309},{"c":31,"eV":26.4,"I":279},{"c":31,"eV":25.9,"I":244},{"c":31,"eV":25.3,"I":217},{"c":31,"eV":24.3,"I":205},{"c":31,"eV":22,"I":202},
      {"c":32,"eV":34,"I":218},{"c":32,"eV":32.5,"I":220},{"c":32,"eV":31,"I":228},{"c":32,"eV":30,"I":242},{"c":32,"eV":29.4,"I":285},{"c":32,"eV":28.7,"I":327},{"c":32,"eV":28.2,"I":313},{"c":32,"eV":27.8,"I":298},{"c":32,"eV":27.4,"I":318},{"c":32,"eV":26.9,"I":336},{"c":32,"eV":26.4,"I":300},{"c":32,"eV":25.9,"I":259},{"c":32,"eV":25.3,"I":227},{"c":32,"eV":24.3,"I":213},{"c":32,"eV":22,"I":209},
      {"c":33,"eV":34,"I":228},{"c":33,"eV":32.5,"I":231},{"c":33,"eV":31,"I":239},{"c":33,"eV":30,"I":256},{"c":33,"eV":29.4,"I":306},{"c":33,"eV":28.7,"I":355},{"c":33,"eV":28.2,"I":339},{"c":33,"eV":27.8,"I":322},{"c":33,"eV":27.4,"I":344},{"c":33,"eV":26.9,"I":366},{"c":33,"eV":26.4,"I":323},{"c":33,"eV":25.9,"I":274},{"c":33,"eV":25.3,"I":236},{"c":33,"eV":24.3,"I":219},{"c":33,"eV":22,"I":215},
      {"c":34,"eV":34,"I":240},{"c":34,"eV":32.5,"I":244},{"c":34,"eV":31,"I":254},{"c":34,"eV":30,"I":274},{"c":34,"eV":29.4,"I":334},{"c":34,"eV":28.7,"I":392},{"c":34,"eV":28.2,"I":372},{"c":34,"eV":27.8,"I":351},{"c":34,"eV":27.4,"I":377},{"c":34,"eV":26.9,"I":403},{"c":34,"eV":26.4,"I":351},{"c":34,"eV":25.9,"I":293},{"c":34,"eV":25.3,"I":247},{"c":34,"eV":24.3,"I":227},{"c":34,"eV":22,"I":222},
      {"c":35,"eV":34,"I":252},{"c":35,"eV":32.5,"I":256},{"c":35,"eV":31,"I":267},{"c":35,"eV":30,"I":289},{"c":35,"eV":29.4,"I":352},{"c":35,"eV":28.7,"I":414},{"c":35,"eV":28.2,"I":392},{"c":35,"eV":27.8,"I":368},{"c":35,"eV":27.4,"I":396},{"c":35,"eV":26.9,"I":423},{"c":35,"eV":26.4,"I":367},{"c":35,"eV":25.9,"I":304},{"c":35,"eV":25.3,"I":254},{"c":35,"eV":24.3,"I":234},{"c":35,"eV":22,"I":228},
      {"c":36,"eV":34,"I":256},{"c":36,"eV":32.5,"I":260},{"c":36,"eV":31,"I":271},{"c":36,"eV":30,"I":293},{"c":36,"eV":29.4,"I":358},{"c":36,"eV":28.7,"I":420},{"c":36,"eV":28.2,"I":398},{"c":36,"eV":27.8,"I":375},{"c":36,"eV":27.4,"I":403},{"c":36,"eV":26.9,"I":430},{"c":36,"eV":26.4,"I":374},{"c":36,"eV":25.9,"I":311},{"c":36,"eV":25.3,"I":261},{"c":36,"eV":24.3,"I":240},{"c":36,"eV":22,"I":233}
    ]
  },
  "hconcat": [
    {
      "width": 204,
      "height": 483,
      "layer": [
        {
          "data": {"name": "si2p"},
          "mark": {"type": "line", "stroke": "black", "strokeWidth": 1.3, "strokeJoin": "round"},
          "encoding": {
            "x": {
              "field": "eV", "type": "quantitative",
              "scale": {"domain": [95, 110], "reverse": true, "nice": false, "zero": false},
              "axis": {
                "values": [110, 108, 106, 104, 102, 100, 98, 96],
                "tickCount": 20,
                "labelExpr": "datum.value == 110 ? '110' : (datum.value == 96 ? '96' : '')",
                "labelOverlap": false,
                "labelAlign": {"condition": {"test": "datum.value == 110", "value": "left"}, "value": "center"},
                "labelFont": "Liberation Serif", "labelFontWeight": "bold", "labelFontSize": 15, "labelPadding": 4,
                "title": "BINDING ENERGY, eV", "titleFont": "DejaVu Sans Mono", "titleFontWeight": "bold", "titleFontSize": 13,
                "titleX": 227, "titleY": 40, "titleAlign": "center", "titleBaseline": "alphabetic"
              }
            },
            "y": {
              "field": "I", "type": "quantitative",
              "scale": {"domain": [0, 483], "nice": false, "zero": true},
              "axis": {"orient": "right", "values": [13, 38, 65, 90, 116, 141, 166, 193], "tickCount": 20, "labels": false, "domain": false, "title": null}
            },
            "detail": {"field": "c", "type": "nominal"}
          }
        },
        {
          "data": {"values": [{}]},
          "mark": {"type": "rule", "color": "black", "strokeWidth": 1},
          "encoding": {"x": {"datum": 95}, "y": {"datum": 0}, "y2": {"datum": 216}}
        },
        {
          "data": {"values": [{}]},
          "mark": {"type": "text", "text": "Si-Si", "font": "Liberation Mono", "fontSize": 14, "align": "center", "baseline": "middle", "color": "black"},
          "encoding": {"x": {"datum": 99.52}, "y": {"datum": 413}}
        },
        {
          "data": {"values": [{}]},
          "mark": {"type": "rule", "color": "black", "strokeWidth": 1},
          "encoding": {"x": {"datum": 99.63}, "y": {"datum": 405}, "y2": {"datum": 395}}
        },
        {
          "data": {"values": [{}]},
          "mark": {"type": "point", "shape": "triangle-down", "filled": true, "color": "black", "size": 14, "opacity": 1},
          "encoding": {"x": {"datum": 99.63}, "y": {"datum": 395}}
        },
        {
          "data": {"values": [{}]},
          "mark": {"type": "text", "text": "Si-N", "font": "Liberation Mono", "fontSize": 14, "align": "center", "baseline": "middle", "color": "black"},
          "encoding": {"x": {"datum": 102.5}, "y": {"datum": 300}}
        },
        {
          "data": {"values": [{}]},
          "mark": {"type": "rule", "color": "black", "strokeWidth": 1},
          "encoding": {"x": {"datum": 102.72}, "y": {"datum": 291}, "y2": {"datum": 282}}
        },
        {
          "data": {"values": [{}]},
          "mark": {"type": "point", "shape": "triangle-down", "filled": true, "color": "black", "size": 14, "opacity": 1},
          "encoding": {"x": {"datum": 102.72}, "y": {"datum": 282}}
        }
      ]
    },
    {
      "width": 208,
      "height": 483,
      "layer": [
        {
          "data": {"name": "ta4f"},
          "mark": {"type": "line", "stroke": "black", "strokeWidth": 1.3, "strokeJoin": "round", "interpolate": "monotone"},
          "encoding": {
            "x": {
              "field": "eV", "type": "quantitative",
              "scale": {"domain": [22, 34], "reverse": true, "nice": false, "zero": false},
              "axis": {
                "values": [34, 32, 30, 28, 26, 24, 22],
                "tickCount": 20,
                "labelExpr": "datum.value == 34 ? '34' : (datum.value == 22 ? '22' : '')",
                "labelOverlap": false,
                "labelAlign": {"condition": {"test": "datum.value == 34", "value": "left"}, "value": "right"},
                "labelFont": "Liberation Serif", "labelFontWeight": "bold", "labelFontSize": 15, "labelPadding": 4,
                "title": null
              }
            },
            "y": {
              "field": "I", "type": "quantitative",
              "scale": {"domain": [0, 483], "nice": false, "zero": true},
              "axis": {"orient": "right", "values": [13, 40, 66, 93, 118, 145, 170, 196], "tickCount": 20, "labels": false, "domain": false, "title": null}
            },
            "detail": {"field": "c", "type": "nominal"}
          }
        },
        {
          "data": {"values": [{}]},
          "mark": {"type": "rule", "color": "black", "strokeWidth": 1},
          "encoding": {"x": {"datum": 22}, "y": {"datum": 0}, "y2": {"datum": 215}}
        },
        {
          "data": {"values": [{}]},
          "mark": {"type": "text", "text": "Ta-O.", "font": "Liberation Mono", "fontSize": 14, "align": "center", "baseline": "middle", "color": "black"},
          "encoding": {"x": {"datum": 28.86}, "y": {"datum": 446}}
        },
        {
          "data": {"values": [{}]},
          "mark": {"type": "rule", "color": "black", "strokeWidth": 1},
          "encoding": {"x": {"datum": 28.69}, "y": {"datum": 439}, "y2": {"datum": 429}}
        },
        {
          "data": {"values": [{}]},
          "mark": {"type": "point", "shape": "triangle-down", "filled": true, "color": "black", "size": 14, "opacity": 1},
          "encoding": {"x": {"datum": 28.69}, "y": {"datum": 429}}
        },
        {
          "data": {"values": [{}]},
          "mark": {"type": "text", "text": "Ta-O", "font": "Liberation Mono", "fontSize": 14, "align": "center", "baseline": "middle", "color": "black"},
          "encoding": {"x": {"datum": 26.79}, "y": {"datum": 466}}
        },
        {
          "data": {"values": [{}]},
          "mark": {"type": "rule", "color": "black", "strokeWidth": 1},
          "encoding": {"x": {"datum": 26.79}, "y": {"datum": 458}, "y2": {"datum": 447}}
        },
        {
          "data": {"values": [{}]},
          "mark": {"type": "point", "shape": "triangle-down", "filled": true, "color": "black", "size": 14, "opacity": 1},
          "encoding": {"x": {"datum": 26.79}, "y": {"datum": 447}}
        },
        {
          "data": {"values": [{}]},
          "mark": {"type": "text", "text": "Si₃N₄", "font": "DejaVu Serif", "fontSize": 16, "align": "left", "baseline": "middle", "color": "black"},
          "encoding": {"x": {"datum": 21.88}, "y": {"datum": 261}}
        },
        {
          "data": {"values": [{}]},
          "mark": {"type": "text", "text": "Surface", "font": "DejaVu Serif", "fontSize": 16, "align": "left", "baseline": "middle", "color": "black"},
          "encoding": {"x": {"datum": 22.0}, "y": {"datum": 238}}
        },
        {
          "data": {"values": [{}]},
          "mark": {"type": "text", "text": "CYCLES", "font": "DejaVu Sans Mono", "fontWeight": "bold", "fontSize": 14, "align": "left", "baseline": "middle", "color": "black"},
          "encoding": {"x": {"datum": 21.19}, "y": {"datum": 96}}
        },
        {
          "data": {"values": [{}]},
          "mark": {"type": "text", "text": "Si Bulk", "font": "DejaVu Serif", "fontSize": 16, "align": "left", "baseline": "middle", "color": "black"},
          "encoding": {"x": {"datum": 21.48}, "y": {"datum": 11}}
        }
      ]
    }
  ]
}
